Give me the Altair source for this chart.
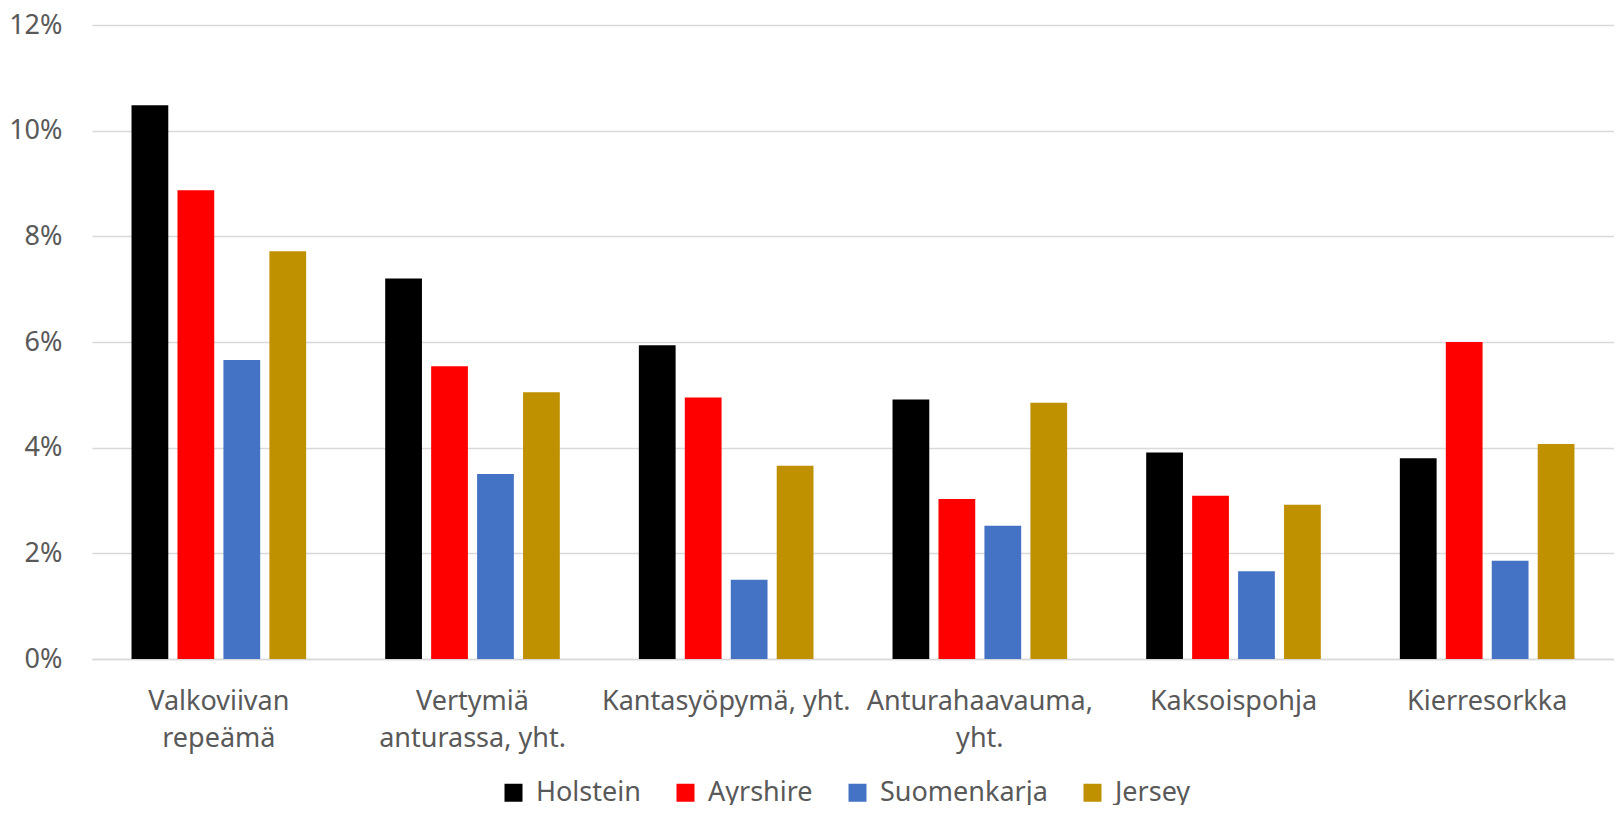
import altair as alt
import pandas as pd

categories = ["Valkoviivan\nrepeämä", "Vertymiä\nanturassa, yht.", "Kantasyöpymä, yht.",
              "Anturahaavauma,\nyht.", "Kaksoispohja", "Kierresorkka"]
breeds = ["Holstein", "Ayrshire", "Suomenkarja", "Jersey"]
colors = ["#000000", "#FF0000", "#4472C4", "#BF9000"]

holstein = [10.48, 7.20, 5.94, 4.91, 3.91, 3.80]
ayrshire = [8.87, 5.54, 4.95, 3.03, 3.09, 6.00]
suomenkarja = [5.66, 3.50, 1.50, 2.52, 1.66, 1.86]
jersey = [7.72, 5.05, 3.66, 4.85, 2.92, 4.07]

series = [holstein, ayrshire, suomenkarja, jersey]
rows = []
for b, vals in zip(breeds, series):
    for c, v in zip(categories, vals):
        rows.append({"cat": c, "breed": b, "value": v / 100})
df = pd.DataFrame(rows)

FONT = "Noto Sans"
GREY = "#595959"
FS = 27

chart = alt.Chart(df).mark_bar().encode(
    x=alt.X("cat:N", sort=categories, title=None,
            scale=alt.Scale(paddingInner=0, paddingOuter=0),
            axis=alt.Axis(labelAngle=0, labelExpr="split(datum.label, '\\n')",
                          labelFont=FONT, labelFontSize=FS, labelColor=GREY,
                          labelPadding=29, labelLineHeight=37, ticks=False,
                          labelLimit=400,
                          domainColor="#D9D9D9", domainWidth=1.5, labelBaseline="top")),
    xOffset=alt.XOffset("breed:N", sort=breeds,
                        scale=alt.Scale(paddingInner=0.2, paddingOuter=0.86)),
    y=alt.Y("value:Q", title=None,
            scale=alt.Scale(domain=[0, 0.12], nice=False),
            axis=alt.Axis(values=[0, 0.02, 0.04, 0.06, 0.08, 0.10, 0.12], format=".0%",
                          labelFont=FONT, labelFontSize=FS, labelColor=GREY,
                          labelPadding=30, ticks=False, domain=False,
                          gridColor="#D9D9D9", gridWidth=1.5)),
    color=alt.Color("breed:N", sort=breeds,
                    scale=alt.Scale(domain=breeds, range=colors),
                    legend=alt.Legend(title=None, orient="none", direction="horizontal",
                                      legendX=408, legendY=754,
                                      symbolType="square", symbolSize=324,
                                      symbolStrokeWidth=0, labelFont=FONT,
                                      labelFontSize=FS, labelColor=GREY,
                                      labelLimit=400,
                                      columnPadding=31, labelOffset=9)),
).properties(
    width=1522, height=634,
    autosize=alt.AutoSizeParams(type="none"),
    padding={"left": 84, "top": 17, "right": 0, "bottom": 146},
).configure_view(stroke=None)

chart.save("out.html", embed_options={"renderer": "svg", "actions": False})
